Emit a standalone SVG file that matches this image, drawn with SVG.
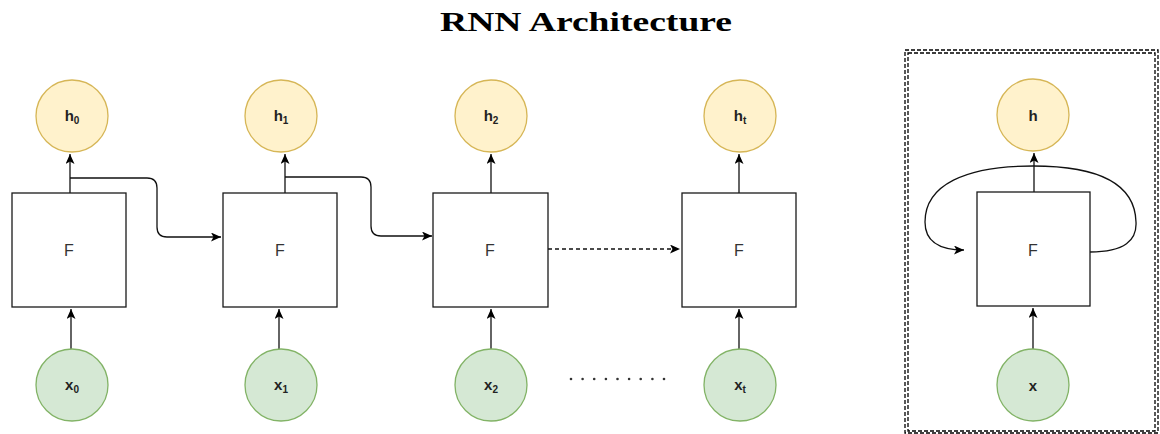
<svg xmlns="http://www.w3.org/2000/svg" width="1160" height="434" viewBox="0 0 1160 434">
<style>
.h{fill:#fff2cc;stroke:#d6b656;stroke-width:1.3}
.x{fill:#d5e8d4;stroke:#82b366;stroke-width:1.3}
.box{fill:#fff;stroke:#1a1a1a;stroke-width:1.3}
.lbl{font-family:"Liberation Sans",Arial,sans-serif;font-size:15px;font-weight:bold;fill:#222;text-anchor:middle}
.sub{font-size:10px}
.f{font-family:"Liberation Sans",Arial,sans-serif;font-size:16px;fill:#333;text-anchor:middle}
.c{fill:none;stroke:#111;stroke-width:1.3}
.title{font-family:"Liberation Serif","Times New Roman",serif;font-size:27px;font-weight:bold;fill:#000;text-anchor:middle}
</style>
<defs>
<marker id="arr" markerWidth="11" markerHeight="10" refX="10" refY="4.5" orient="auto" markerUnits="userSpaceOnUse">
<path d="M0,0 L10,4.5 L0,9 L2.5,4.5 z" fill="#000"/>
</marker>
</defs>
<text class="title" x="586" y="31" textLength="292" lengthAdjust="spacingAndGlyphs">RNN Architecture</text>

<g id="frame">
<rect x="905" y="50" width="253" height="383" fill="none" stroke="#000" stroke-width="1.3" stroke-dasharray="4 2"/>
<rect x="908" y="53" width="247" height="378" fill="none" stroke="#000" stroke-width="1.3" stroke-dasharray="4 2"/>
</g>

<g id="connectors">
<line class="c" x1="70" y1="193" x2="70" y2="154" marker-end="url(#arr)"/>
<line class="c" x1="285" y1="193" x2="285" y2="154" marker-end="url(#arr)"/>
<line class="c" x1="491" y1="193" x2="491" y2="154" marker-end="url(#arr)"/>
<line class="c" x1="739" y1="193" x2="739" y2="154" marker-end="url(#arr)"/>
<line class="c" x1="71" y1="349" x2="71" y2="309" marker-end="url(#arr)"/>
<line class="c" x1="279" y1="349" x2="279" y2="309" marker-end="url(#arr)"/>
<line class="c" x1="491" y1="349" x2="491" y2="309" marker-end="url(#arr)"/>
<line class="c" x1="739" y1="349" x2="739" y2="309" marker-end="url(#arr)"/>
<path class="c" d="M70,178 H147 Q157,178 157,188 V227 Q157,237 167,237 H221" marker-end="url(#arr)"/>
<path class="c" d="M285,177 H361 Q371,177 371,187 V226 Q371,236 381,236 H432" marker-end="url(#arr)"/>
<line class="c" x1="548" y1="249" x2="680" y2="249" stroke="#333" stroke-dasharray="4 3" marker-end="url(#arr)"/>
<line class="c" x1="1034" y1="192" x2="1034" y2="153" marker-end="url(#arr)"/>
<line class="c" x1="1033" y1="349" x2="1033" y2="308" marker-end="url(#arr)"/>
<path class="c" d="M1090,252 C1125,252 1137,240 1136,222 C1135,185 1100,166 1033,166 C965,166 925,185 925,222 C925,240 937,250 964,250" marker-end="url(#arr)"/>
<g id="dots" fill="#333">
<circle cx="571" cy="379" r="1.3"/><circle cx="582.6" cy="379" r="1.3"/><circle cx="594.2" cy="379" r="1.3"/><circle cx="605.9" cy="379" r="1.3"/><circle cx="617.5" cy="379" r="1.3"/><circle cx="629.1" cy="379" r="1.3"/><circle cx="640.7" cy="379" r="1.3"/><circle cx="652.4" cy="379" r="1.3"/><circle cx="664" cy="379" r="1.3"/>
</g>
</g>

<g id="F0"><rect class="box" x="12" y="193" width="114" height="114"/><text class="f" x="69" y="256">F</text></g>
<g id="F1"><rect class="box" x="223" y="193" width="114" height="114"/><text class="f" x="280" y="256">F</text></g>
<g id="F2"><rect class="box" x="433" y="193" width="115" height="114"/><text class="f" x="490" y="256">F</text></g>
<g id="Ft"><rect class="box" x="682" y="193" width="114" height="114"/><text class="f" x="739" y="256">F</text></g>
<g id="F"><rect class="box" x="977" y="192" width="113" height="114" stroke="#333" stroke-width="1.6"/><text class="f" x="1033" y="256">F</text></g>

<g id="h0"><circle class="h" cx="72" cy="116" r="36"/><text class="lbl" x="72" y="121">h<tspan class="sub" dy="3">0</tspan></text></g>
<g id="h1"><circle class="h" cx="281" cy="116" r="36"/><text class="lbl" x="281" y="121">h<tspan class="sub" dy="3">1</tspan></text></g>
<g id="h2"><circle class="h" cx="491" cy="116" r="36"/><text class="lbl" x="491" y="121">h<tspan class="sub" dy="3">2</tspan></text></g>
<g id="ht"><circle class="h" cx="740" cy="116" r="36"/><text class="lbl" x="740" y="121">h<tspan class="sub" dy="3">t</tspan></text></g>
<g id="h"><circle class="h" cx="1033" cy="115" r="36"/><text class="lbl" x="1033" y="121">h</text></g>

<g id="x0"><circle class="x" cx="72" cy="385" r="36"/><text class="lbl" x="72" y="390">x<tspan class="sub" dy="3">0</tspan></text></g>
<g id="x1"><circle class="x" cx="281" cy="385" r="36"/><text class="lbl" x="281" y="390">x<tspan class="sub" dy="3">1</tspan></text></g>
<g id="x2"><circle class="x" cx="491" cy="385" r="36"/><text class="lbl" x="491" y="390">x<tspan class="sub" dy="3">2</tspan></text></g>
<g id="xt"><circle class="x" cx="740" cy="385" r="36"/><text class="lbl" x="740" y="390">x<tspan class="sub" dy="3">t</tspan></text></g>
<g id="x"><circle class="x" cx="1033" cy="385" r="36"/><text class="lbl" x="1033" y="391">x</text></g>
</svg>
